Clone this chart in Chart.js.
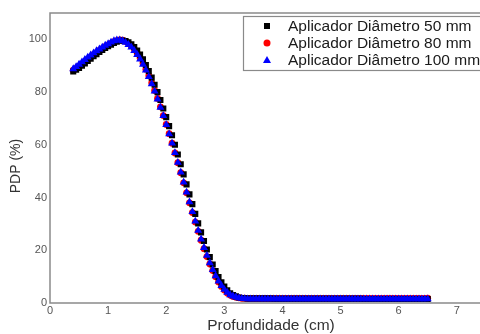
<!DOCTYPE html>
<html>
<head>
<meta charset="utf-8">
<script src="https://cdn.jsdelivr.net/npm/chart.js@4/dist/chart.umd.min.js"></script>
<style>
  html, body { margin: 0; padding: 0; background: #fff; overflow: hidden; }
  #wrap { width: 480px; height: 334px; overflow: hidden; }
</style>
</head>
<body>
<div id="wrap"><canvas id="pdpChart" width="500" height="334"></canvas></div>
<script>
// depth in cm
const depth = [
  0.4, 0.45, 0.5, 0.55, 0.6, 0.65, 0.7, 0.75, 0.8, 0.85,
  0.9, 0.95, 1.0, 1.05, 1.1, 1.15, 1.2, 1.25, 1.3, 1.35,
  1.4, 1.45, 1.5, 1.55, 1.6, 1.65, 1.7, 1.75, 1.8, 1.85,
  1.9, 1.95, 2.0, 2.05, 2.1, 2.15, 2.2, 2.25, 2.3, 2.35,
  2.4, 2.45, 2.5, 2.55, 2.6, 2.65, 2.7, 2.75, 2.8, 2.85,
  2.9, 2.95, 3.0, 3.05, 3.1, 3.15, 3.2, 3.25, 3.3, 3.35,
  3.4, 3.45, 3.5,
  3.55, 3.6, 3.65, 3.7, 3.75, 3.8, 3.85, 3.9, 3.95, 4.0,
  4.05, 4.1, 4.15, 4.2, 4.25, 4.3, 4.35, 4.4, 4.45, 4.5,
  4.55, 4.6, 4.65, 4.7, 4.75, 4.8, 4.85, 4.9, 4.95, 5.0,
  5.05, 5.1, 5.15, 5.2, 5.25, 5.3, 5.35, 5.4, 5.45, 5.5,
  5.55, 5.6, 5.65, 5.7, 5.75, 5.8, 5.85, 5.9, 5.95, 6.0,
  6.05, 6.1, 6.15, 6.2, 6.25, 6.3, 6.35, 6.4, 6.45, 6.5];

// PDP (%) - aplicador 50 mm
const pdp50 = [
  87.8, 88.5, 89.2, 90.0, 90.9, 91.8, 92.7, 93.6, 94.4, 95.2,
  96.0, 96.7, 97.4, 98.0, 98.6, 99.1, 99.5, 99.6, 99.4, 98.9,
  98.1, 97.1, 95.8, 94.2, 92.4, 90.3, 88.0, 85.5, 82.8, 80.0,
  77.0, 73.8, 70.5, 67.1, 63.6, 60.0, 56.3, 52.6, 48.8, 45.0,
  41.2, 37.5, 33.8, 30.2, 26.8, 23.5, 20.3, 17.4, 14.6, 12.1,
  9.8, 7.9, 6.2, 4.8, 3.7, 3.0, 2.5, 2.1, 1.9, 1.8,
  1.7, 1.7, 1.7,
  1.7, 1.7, 1.7, 1.7, 1.7, 1.7, 1.6, 1.6, 1.6, 1.6,
  1.6, 1.6, 1.6, 1.6, 1.6, 1.6, 1.6, 1.6, 1.6, 1.6,
  1.6, 1.6, 1.6, 1.6, 1.6, 1.6, 1.6, 1.6, 1.6, 1.6,
  1.6, 1.6, 1.6, 1.6, 1.6, 1.6, 1.6, 1.5, 1.5, 1.5,
  1.5, 1.5, 1.5, 1.5, 1.5, 1.5, 1.5, 1.5, 1.5, 1.5,
  1.5, 1.5, 1.5, 1.5, 1.5, 1.5, 1.5, 1.5, 1.5, 1.5];

// PDP (%) - aplicador 80 mm
const pdp80 = [
  88.3, 89.0, 89.8, 90.6, 91.5, 92.4, 93.3, 94.2, 95.0, 95.8,
  96.5, 97.2, 97.9, 98.5, 99.1, 99.5, 99.8, 99.7, 99.2, 98.5,
  97.6, 96.3, 94.8, 93.0, 91.0, 88.7, 86.2, 83.5, 80.6, 77.6,
  74.4, 71.1, 67.7, 64.2, 60.6, 56.9, 53.2, 49.4, 45.6, 41.8,
  38.0, 34.3, 30.7, 27.2, 23.8, 20.6, 17.6, 14.8, 12.3, 10.0,
  8.0, 6.3, 4.9, 3.8, 3.0, 2.5, 2.2, 2.0, 1.8, 1.8,
  1.7, 1.7, 1.7,
  1.7, 1.7, 1.7, 1.7, 1.7, 1.7, 1.7, 1.7, 1.7, 1.7,
  1.7, 1.7, 1.7, 1.7, 1.7, 1.7, 1.7, 1.7, 1.7, 1.7,
  1.7, 1.7, 1.7, 1.7, 1.7, 1.7, 1.7, 1.7, 1.7, 1.7,
  1.7, 1.7, 1.7, 1.7, 1.7, 1.7, 1.7, 1.7, 1.7, 1.7,
  1.7, 1.7, 1.7, 1.7, 1.7, 1.7, 1.7, 1.7, 1.7, 1.7,
  1.7, 1.7, 1.7, 1.7, 1.7, 1.7, 1.7, 1.7, 1.7, 1.8];

// PDP (%) - aplicador 100 mm
const pdp100 = [
  88.8, 89.6, 90.5, 91.4, 92.3, 93.2, 94.0, 94.8, 95.6, 96.3,
  97.0, 97.7, 98.3, 98.9, 99.4, 99.7, 99.7, 99.4, 98.8, 98.0,
  97.0, 95.7, 94.2, 92.5, 90.5, 88.3, 85.8, 83.1, 80.3, 77.3,
  74.2, 71.0, 67.6, 64.1, 60.6, 57.0, 53.3, 49.6, 45.8, 42.0,
  38.3, 34.6, 31.0, 27.5, 24.2, 21.0, 18.0, 15.2, 12.6, 10.3,
  8.3, 6.6, 5.1, 4.0, 3.1, 2.6, 2.2, 1.9, 1.7, 1.6,
  1.5, 1.5, 1.5,
  1.5, 1.5, 1.5, 1.5, 1.5, 1.5, 1.5, 1.5, 1.5, 1.5,
  1.5, 1.5, 1.5, 1.5, 1.5, 1.5, 1.5, 1.5, 1.5, 1.5,
  1.5, 1.5, 1.5, 1.5, 1.5, 1.5, 1.5, 1.5, 1.5, 1.5,
  1.5, 1.5, 1.5, 1.5, 1.5, 1.5, 1.5, 1.5, 1.5, 1.5,
  1.5, 1.5, 1.5, 1.5, 1.5, 1.5, 1.5, 1.5, 1.5, 1.5,
  1.5, 1.5, 1.5, 1.5, 1.5, 1.5, 1.5, 1.5, 1.5, 1.5];

const seriesNames = ["Aplicador Diâmetro 50 mm", "Aplicador Diâmetro 80 mm", "Aplicador Diâmetro 100 mm"];
const xTicks = [0, 1, 2, 3, 4, 5, 6, 7];
const yTicks = [0, 20, 40, 60, 80, 100];

function toPoints(ys) {
  return depth.map((d, i) => ({ x: d, y: ys[i] }));
}

// frame, boxed legend and axis titles
const extras = {
  id: "extras",
  beforeDatasetsDraw(chart) {
    const { ctx, chartArea: a } = chart;
    ctx.save();
    ctx.strokeStyle = "#8a8a8a";
    ctx.lineWidth = 1.5;
    ctx.strokeRect(a.left, a.top, a.right - a.left + 20, a.bottom - a.top);
    ctx.restore();
  },
  afterDraw(chart) {
    const ctx = chart.ctx;
    ctx.save();
    // legend box
    ctx.fillStyle = "#fff";
    ctx.fillRect(243, 16, 300, 54);
    ctx.strokeStyle = "#8a8a8a";
    ctx.lineWidth = 1.2;
    ctx.strokeRect(243.5, 16.5, 300, 54);
    const rows = [26, 43, 60];
    ctx.font = "15.5px 'Liberation Sans', Arial, sans-serif";
    ctx.textBaseline = "middle";
    ctx.textAlign = "left";
    rows.forEach((y, i) => {
      if (i === 0) {
        ctx.fillStyle = "#000";
        ctx.fillRect(264, y - 3, 6, 6);
      } else if (i === 1) {
        ctx.fillStyle = "#ff0000";
        ctx.beginPath();
        ctx.arc(267, y, 3.5, 0, Math.PI * 2);
        ctx.fill();
      } else {
        ctx.fillStyle = "#0000ff";
        ctx.beginPath();
        ctx.moveTo(267, y - 4);
        ctx.lineTo(271, y + 3);
        ctx.lineTo(263, y + 3);
        ctx.closePath();
        ctx.fill();
      }
      ctx.fillStyle = "#1a1a1a";
      ctx.fillText(seriesNames[i], 288, y + 1);
    });
    // axis titles
    ctx.fillStyle = "#333";
    ctx.font = "15.5px 'Liberation Sans', Arial, sans-serif";
    ctx.textAlign = "center";
    ctx.fillText("Profundidade (cm)", 271, 326);
    ctx.font = "14px 'Liberation Sans', Arial, sans-serif";
    ctx.translate(16, 166);
    ctx.rotate(-Math.PI / 2);
    ctx.fillText("PDP (%)", 0, 0);
    ctx.restore();
  }
};

const ctx = document.getElementById("pdpChart");

new Chart(ctx, {
  type: "scatter",
  data: {
    datasets: [
      {
        label: seriesNames[0],
        data: toPoints(pdp50),
        pointStyle: "rect",
        pointRadius: 4.3,
        backgroundColor: "#000",
        borderWidth: 0,
        order: 1,
      },
      {
        label: seriesNames[1],
        data: toPoints(pdp80),
        pointStyle: "circle",
        pointRadius: 3.4,
        backgroundColor: "#ff0000",
        borderWidth: 0,
        order: 2,
      },
      {
        label: seriesNames[2],
        data: toPoints(pdp100),
        pointStyle: "triangle",
        pointRadius: 4.6,
        backgroundColor: "#0000ff",
        borderWidth: 0,
        order: 0,
      },
    ],
  },
  options: {
    responsive: false,
    animation: false,
    layout: { padding: { top: 13, left: 0, right: 0, bottom: 0 } },
    scales: {
      x: {
        type: "linear",
        min: 0,
        max: 450 / 58.71,
        afterFit: (s) => { s.height = 31; },
        afterBuildTicks: (s) => { s.ticks = xTicks.map((v) => ({ value: v })); },
        grid: { display: false, drawTicks: false },
        border: { display: false },
        ticks: {
          padding: 1,
          color: "#555",
          font: { family: "'Liberation Sans', Arial, sans-serif", size: 11 },
          maxRotation: 0,
        },
      },
      y: {
        min: 0,
        max: 110,
        afterFit: (s) => { s.width = 50; },
        afterBuildTicks: (s) => { s.ticks = yTicks.map((v) => ({ value: v })); },
        grid: { display: false, drawTicks: false },
        border: { display: false },
        ticks: {
          padding: 3,
          color: "#555",
          font: { family: "'Liberation Sans', Arial, sans-serif", size: 11 },
        },
      },
    },
    plugins: {
      legend: { display: false },
      tooltip: { enabled: false },
    },
  },
  plugins: [extras],
});
</script>
</body>
</html>
